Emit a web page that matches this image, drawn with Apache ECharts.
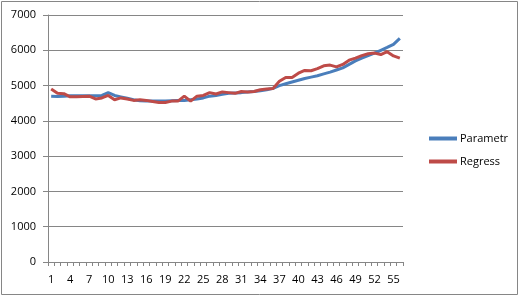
<!DOCTYPE html>
<html><head><meta charset="utf-8">
<script src="https://cdn.jsdelivr.net/npm/echarts@6/dist/echarts.min.js"></script>
<style>html,body{margin:0;padding:0;background:#fff}#c{width:520px;height:297px}</style>
</head><body><div id="c"></div>
<script>
var categories = [];
for (var i = 1; i <= 56; i++) categories.push(String(i));
var parametr = [4700,4690,4700,4710,4710,4710,4710,4710,4720,4800,4720,4680,4640,4600,4570,4560,4560,4560,4560,4570,4580,4580,4600,4620,4650,4700,4720,4750,4780,4790,4800,4820,4830,4850,4880,4920,5000,5050,5100,5150,5200,5240,5280,5330,5380,5440,5500,5600,5700,5780,5850,5920,6000,6080,6170,6340];
var regress = [4900,4780,4770,4680,4680,4690,4700,4620,4650,4720,4600,4650,4620,4580,4600,4580,4550,4520,4520,4560,4560,4700,4560,4700,4720,4800,4760,4820,4800,4780,4830,4820,4830,4880,4900,4920,5120,5230,5230,5350,5430,5420,5480,5560,5580,5530,5600,5720,5780,5850,5900,5920,5880,5960,5840,5780];
var yTicks = [0,1000,2000,3000,4000,5000,6000,7000];
var chart = echarts.init(document.getElementById('c'));
var font = '"Open Sans", "Noto Sans", sans-serif';
chart.setOption({
  animation: false,
  textStyle: {fontFamily: font},
  graphic: [{type:'rect', shape:{x:1.5,y:1.5,width:516,height:293}, style:{fill:'none', stroke:'#868686', lineWidth:1}, silent:true}],
  grid: {left: 48, right: 117, top: 15, bottom: 35},
  legend: {
    orient: 'vertical', left: 424, top: 128, itemGap: 12,
    icon: 'rect', itemWidth: 28, itemHeight: 4,
    textStyle: {fontSize: 11, color: '#000', fontFamily: font, padding: [0,0,0,-2]},
    data: ['Parametr','Regress']
  },
  xAxis: {
    type: 'category', data: categories, boundaryGap: true,
    axisLine: {lineStyle: {color: '#868686'}},
    axisTick: {show: true, interval: 0, length: 4, lineStyle: {color: '#868686'}},
    axisLabel: {interval: 2, fontSize: 11, color: '#000', margin: 12, fontFamily: font}
  },
  yAxis: {
    type: 'value', min: yTicks[0], max: yTicks[yTicks.length-1], interval: 1000,
    axisLine: {show: true, lineStyle: {color: '#868686'}},
    axisTick: {show: true, length: 5, lineStyle: {color: '#868686'}},
    splitLine: {lineStyle: {color: '#868686'}},
    axisLabel: {fontSize: 11, color: '#000', margin: 12, fontFamily: font, formatter: function (v) { return String(v); }}
  },
  series: [
    {name: 'Parametr', type: 'line', data: parametr, symbol: 'none', lineStyle: {width: 3, color: '#4A7EBB'}, itemStyle: {color: '#4A7EBB'}},
    {name: 'Regress', type: 'line', data: regress, symbol: 'none', lineStyle: {width: 3, color: '#BE4B48'}, itemStyle: {color: '#BE4B48'}}
  ]
});
</script></body></html>
